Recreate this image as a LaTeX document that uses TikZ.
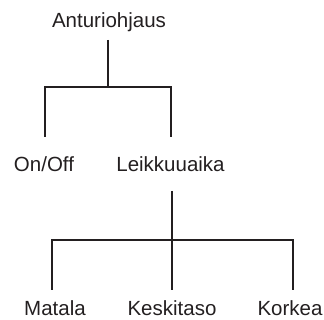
\documentclass[tikz,border=0pt]{standalone}
\usepackage{fontspec}
\setmainfont{Liberation Sans}
\definecolor{ink}{RGB}{35,31,32}
\begin{document}
\begin{tikzpicture}[x=1pt,y=-1pt,
  lbl/.style={anchor=base,inner sep=0pt,text=ink,font=\fontsize{20.5}{25}\selectfont},
  conn/.style={draw=ink,line width=2pt}]
\useasboundingbox (0,0) rectangle (324,320);
% nodes
\node[lbl] (root) at (109,28) {Anturiohjaus};
\node[lbl] (onoff) at (44,171.5) {On/Off};
\node[lbl] (leik) at (170.5,171.5) {Leikkuuaika};
\node[lbl] (matala) at (55,316) {Matala};
\node[lbl] (keski) at (172,316) {Keskitaso};
\node[lbl] (korkea) at (290,316) {Korkea};
% junction coordinates
\coordinate (r0) at (108.3,40);
\coordinate (r1) at (108.3,87.3);
\coordinate (a1) at (45.3,87.3);
\coordinate (a2) at (45.3,136.7);
\coordinate (b1) at (171,87.3);
\coordinate (b2) at (171,136.7);
\coordinate (l0) at (171.5,191);
\coordinate (l1) at (171.5,240);
\coordinate (c1) at (51.7,240);
\coordinate (c2) at (51.7,290);
\coordinate (d2) at (171.5,290);
\coordinate (e1) at (293,240);
\coordinate (e2) at (293,290);
% connectors
\draw[conn] (r0) -- (r1);
\draw[conn] (a2) -- (a1) -- (b1) -- (b2);
\draw[conn] (l0) -- (l1);
\draw[conn] (c2) -- (c1) -- (e1) -- (e2);
\draw[conn] (l1) -- (d2);
\end{tikzpicture}
\end{document}
